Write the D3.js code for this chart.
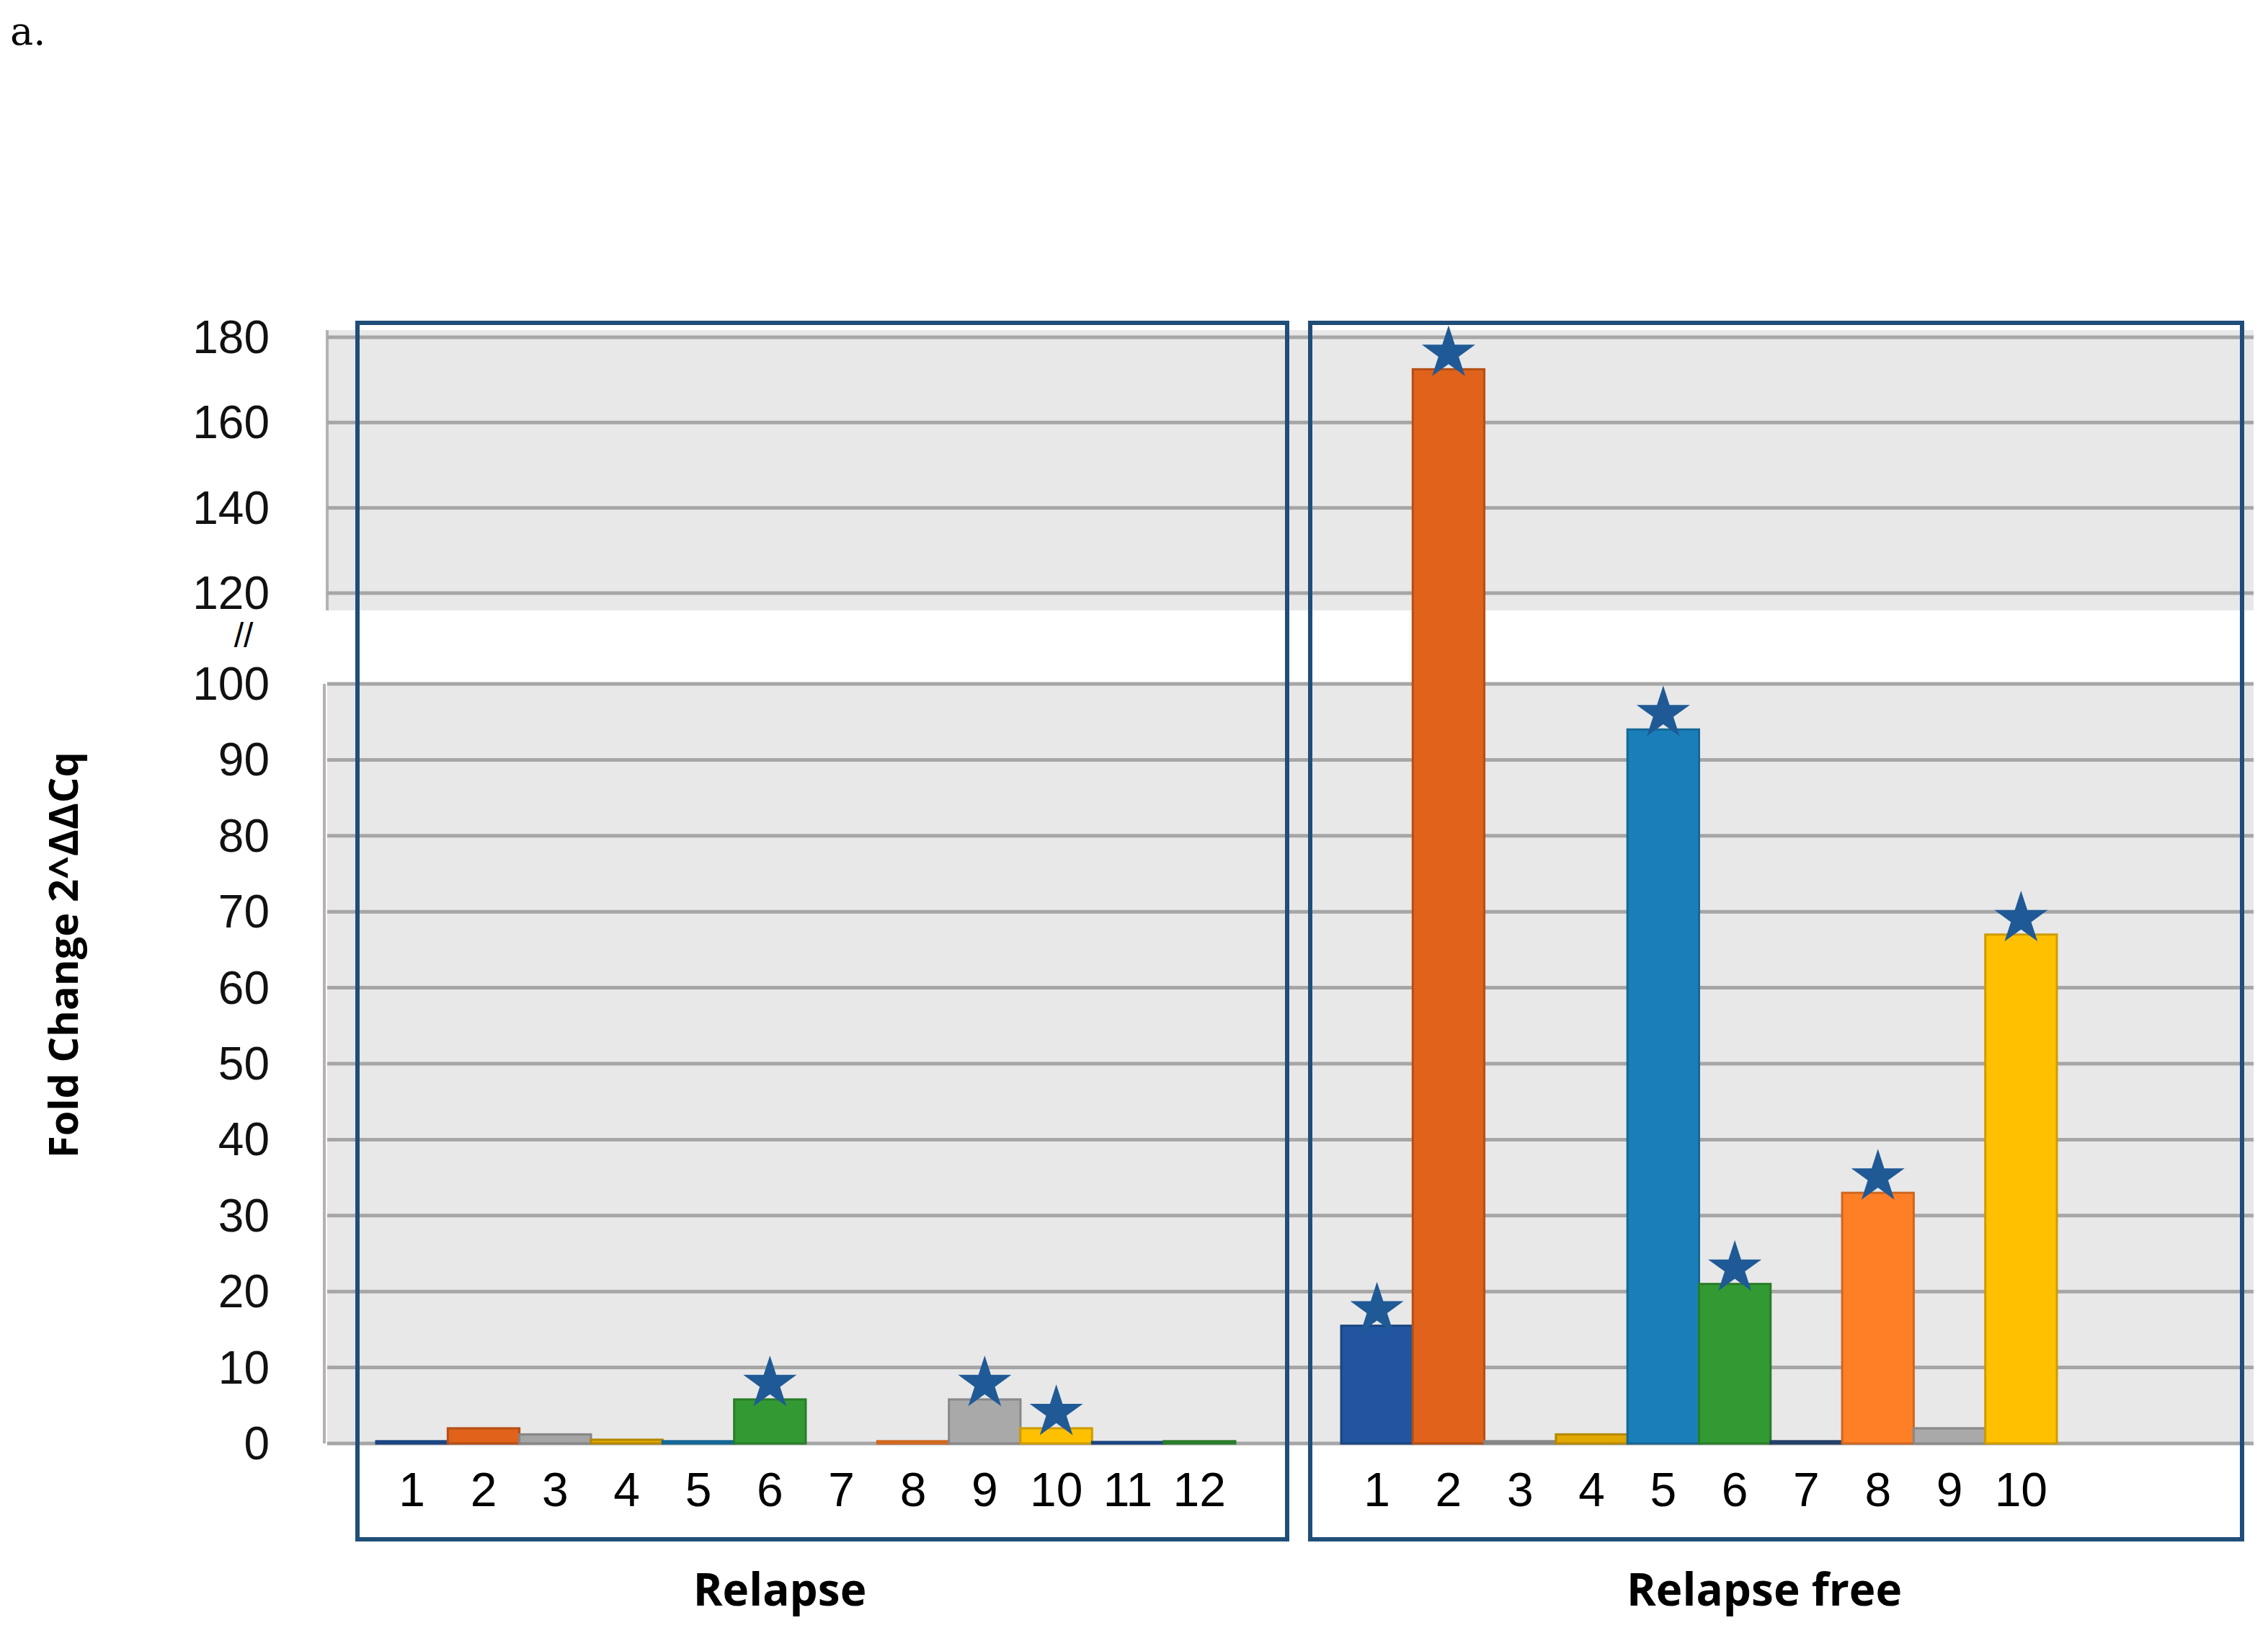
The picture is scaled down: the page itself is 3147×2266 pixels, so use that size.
<!DOCTYPE html>
<html><head><meta charset="utf-8">
<script src="https://cdn.jsdelivr.net/npm/d3@7"></script>
<style>body{margin:0;background:#fff}</style>
</head><body>
<svg id="chart" width="3147" height="2266"></svg>
<script>
// data
const relapseLabels = ["1","2","3","4","5","6","7","8","9","10","11","12"];
const relapseValues = [0.3, 2, 1.2, 0.5, 0.3, 5.8, 0, 0.3, 5.8, 2, 0.2, 0.3];
const relapseColors = ["#2155a0","#e0621b","#a5a5a5","#e0a800","#1a7fb8","#339933","#2b4f80","#ff7f27","#a9a9a9","#ffc000","#2155a0","#339933"];
const relapseStars = [false,false,false,false,false,true,false,false,true,true,false,false];

const freeLabels = ["1","2","3","4","5","6","7","8","9","10"];
const freeValues = [15.5, 172.5, 0.3, 1.2, 94, 21, 0.3, 33, 2, 67];
const freeColors = ["#2155a0","#e0621b","#a5a5a5","#e0a800","#1a7fb8","#339933","#2b4f80","#ff7f27","#a9a9a9","#ffc000"];
const freeStars = [true,true,false,false,true,true,false,true,false,true];

const lowerTicks = [0,10,20,30,40,50,60,70,80,90,100];
const upperTicks = [120,140,160,180];

const svg = d3.select("#chart");
const font = "Liberation Sans, Arial, sans-serif";

const plotLeft = 454, plotRight = 3127;
const yLow = d3.scaleLinear().domain([0, 100]).range([2003, 949]);
const yUp = d3.scaleLinear().domain([120, 180]).range([823, 468]);
const yVal = v => v > 100 ? yUp(v) : yLow(v);

svg.append("text").attr("x", 14).attr("y", 62)
  .attr("font-family", "DejaVu Serif, serif").attr("font-size", 54).text("a.");

// background panels
svg.append("rect").attr("x", plotLeft).attr("y", 458).attr("width", plotRight - plotLeft).attr("height", 389).attr("fill", "#e8e8e8");
svg.append("rect").attr("x", plotLeft).attr("y", yLow(100)).attr("width", plotRight - plotLeft).attr("height", yLow(0) - yLow(100)).attr("fill", "#e8e8e8");
svg.append("line").attr("x1", plotLeft).attr("x2", plotLeft).attr("y1", 458).attr("y2", 847).attr("stroke", "#b8b0b0").attr("stroke-width", 4);
svg.append("line").attr("x1", plotLeft - 4).attr("x2", plotLeft - 4).attr("y1", yLow(100)).attr("y2", yLow(0)).attr("stroke", "#b8b0b0").attr("stroke-width", 4);

// grid lines
const grid = svg.append("g").attr("stroke", "#a6a6a6").attr("stroke-width", 5);
grid.selectAll(".gu").data(upperTicks).join("line")
  .attr("x1", plotLeft).attr("x2", plotRight).attr("y1", d => yUp(d)).attr("y2", d => yUp(d));
grid.selectAll(".gl").data(lowerTicks).join("line")
  .attr("x1", plotLeft).attr("x2", plotRight).attr("y1", d => yLow(d)).attr("y2", d => yLow(d));

// y tick labels
const tl = svg.append("g").attr("font-family", font).attr("font-size", 64).attr("text-anchor", "end").attr("fill", "#111");
tl.selectAll(".tu").data(upperTicks).join("text").attr("x", 374).attr("y", d => yUp(d) + 22).text(d => d);
tl.selectAll(".tlw").data(lowerTicks).join("text").attr("x", 374).attr("y", d => yLow(d) + 22).text(d => d);
svg.append("text").attr("x", 338).attr("y", 898).attr("font-family", font).attr("font-size", 48).attr("text-anchor", "middle").text("//");

svg.append("text").attr("transform", "translate(108,1325) rotate(-90)")
  .attr("font-family", "Open Sans, sans-serif").attr("font-weight", "bold").attr("font-size", 56)
  .attr("text-anchor", "middle").text("Fold Change 2^ΔΔCq");

const starPath = d3.symbol().type(d3.symbolStar).size(1700)();

function drawGroup(labels, values, colors, stars, x0, x1, boxX0, boxX1, title, titleX) {
  const x = d3.scaleBand().domain(labels).range([x0, x1]).padding(0);
  const g = svg.append("g");
  g.selectAll("rect").data(values).join("rect")
    .attr("x", (d, i) => x(labels[i]))
    .attr("y", d => yVal(d))
    .attr("width", x.bandwidth())
    .attr("height", d => Math.max(yLow(0) - yVal(d), 0))
    .attr("fill", (d, i) => colors[i])
    .attr("stroke", (d, i) => d3.color(colors[i]).darker(0.6))
    .attr("stroke-width", 3);
  g.selectAll("path").data(values.filter((d, i) => stars[i]).map((d, k) => [d, labels.filter((l, i) => stars[i])[k]]))
    .join("path").attr("d", starPath).attr("fill", "#1f5a96")
    .attr("transform", d => `translate(${x(d[1]) + x.bandwidth() / 2},${yVal(d[0]) - 22})`);
  g.selectAll("text").data(labels).join("text")
    .attr("x", d => x(d) + x.bandwidth() / 2).attr("y", 2090)
    .attr("font-family", font).attr("font-size", 66).attr("text-anchor", "middle").text(d => d);
  svg.append("rect").attr("x", boxX0).attr("y", 448).attr("width", boxX1 - boxX0).attr("height", 1688)
    .attr("fill", "none").attr("stroke", "#1f4e79").attr("stroke-width", 6);
  svg.append("text").attr("x", titleX).attr("y", 2228)
    .attr("font-family", "Open Sans, sans-serif").attr("font-weight", "bold").attr("font-size", 62)
    .attr("text-anchor", "middle").text(title);
}

// white break band across the plot
svg.append("rect").attr("x", plotLeft - 10).attr("y", 847).attr("width", plotRight - plotLeft + 20).attr("height", yLow(100) - 847 - 3).attr("fill", "#fff");

drawGroup(relapseLabels, relapseValues, relapseColors, relapseStars, 522, 1714, 496, 1786, "Relapse", 1082);
drawGroup(freeLabels, freeValues, freeColors, freeStars, 1861, 2854, 1818, 3111, "Relapse free", 2448);
</script>
</body></html>
